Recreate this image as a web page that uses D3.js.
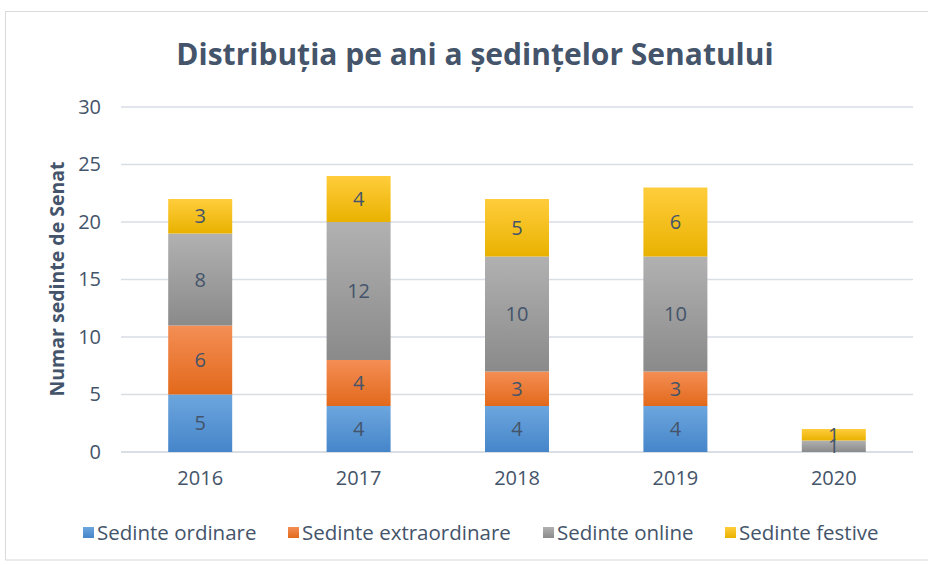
<!DOCTYPE html>
<html>
<head>
<meta charset="utf-8">
<style>
  body { margin: 0; background: #fff; }
  text { font-family: "Open Sans", "Noto Sans", sans-serif; }
</style>
<script src="https://d3js.org/d3.v7.min.js"></script>
</head>
<body>
<svg id="chart" width="928" height="565"></svg>
<script>
  // data
  var years = ["2016", "2017", "2018", "2019", "2020"]
  var seriesNames = ["Sedinte ordinare", "Sedinte extraordinare", "Sedinte online", "Sedinte festive"]
  var ordinare = [5, 4, 4, 4, 0]
  var extraordinare = [6, 4, 3, 3, 0]
  var online = [8, 12, 10, 10, 1]
  var festive = [3, 4, 5, 6, 1]
  var yTicks = [0, 5, 10, 15, 20, 25, 30]

  var colors = [["#6da6de", "#4585c9"], ["#f48e55", "#e2691b"], ["#b1b1b1", "#8a8a8a"], ["#ffcd3c", "#e9b200"]]
  var textColor = "#44546a"

  var svg = d3.select("#chart")
  var margin = {top: 107, right: 15, bottom: 113, left: 121}
  var width = 913 - margin.left
  var height = 452 - margin.top

  // border
  svg.append("rect").attr("x", 5.5).attr("y", 11.5).attr("width", 940).attr("height", 548.5)
    .attr("fill", "#fff").attr("stroke", "#d9d9d9")

  var defs = svg.append("defs")
  colors.forEach((c, i) => {
    var lg = defs.append("linearGradient").attr("id", "grad" + i)
      .attr("x1", 0).attr("y1", 0).attr("x2", 0).attr("y2", 1)
    lg.append("stop").attr("offset", "0%").attr("stop-color", c[0])
    lg.append("stop").attr("offset", "100%").attr("stop-color", c[1])
  })

  var g = svg.append("g").attr("transform", "translate(" + margin.left + "," + margin.top + ")")

  var x = d3.scaleBand().domain(years).range([0, width]).paddingInner(0.596).paddingOuter(0.298)
  var y = d3.scaleLinear().domain([0, 30]).range([height, 0])

  // gridlines
  g.selectAll(".grid").data(yTicks).enter().append("line")
    .attr("x1", 0).attr("x2", width)
    .attr("y1", d => y(d)).attr("y2", d => y(d))
    .attr("stroke", "#d9dde4").attr("stroke-width", d => d === 0 ? 2 : 1.3)

  // y axis
  var yAxis = g.append("g").call(d3.axisLeft(y).tickValues(yTicks).tickSize(0).tickPadding(20))
  yAxis.select(".domain").remove()
  yAxis.selectAll("text").attr("fill", textColor).style("font-size", "20px")

  // x axis
  var xAxis = g.append("g").attr("transform", "translate(0," + height + ")")
    .call(d3.axisBottom(x).tickSize(0).tickPadding(19))
  xAxis.select(".domain").remove()
  xAxis.selectAll("text").attr("fill", textColor).style("font-size", "20px")

  // stack
  var table = years.map((yr, i) => ({
    year: yr,
    "Sedinte ordinare": ordinare[i],
    "Sedinte extraordinare": extraordinare[i],
    "Sedinte online": online[i],
    "Sedinte festive": festive[i]
  }))
  var stacked = d3.stack().keys(seriesNames)(table)

  stacked.forEach((s, si) => {
    var layer = g.append("g")
    layer.selectAll("rect").data(s.filter(d => d[1] - d[0] > 0)).enter().append("rect")
      .attr("x", d => x(d.data.year))
      .attr("width", x.bandwidth())
      .attr("y", d => y(d[1]))
      .attr("height", d => y(d[0]) - y(d[1]))
      .attr("fill", "url(#grad" + si + ")")
  })
  stacked.forEach((s, si) => {
    g.append("g").selectAll("text").data(s.filter(d => d[1] - d[0] > 0)).enter().append("text")
      .attr("x", d => x(d.data.year) + x.bandwidth() / 2)
      .attr("y", d => (y(d[0]) + y(d[1])) / 2)
      .attr("dy", "0.35em")
      .attr("text-anchor", "middle")
      .attr("fill", textColor)
      .style("font-size", "20px")
      .text(d => d[1] - d[0])
  })

  // title
  svg.append("text").attr("x", 475).attr("y", 65).attr("text-anchor", "middle")
    .attr("fill", textColor).style("font-size", "30px").style("font-weight", "bold")
    .text("Distribuția pe ani a ședințelor Senatului")

  // y label
  svg.append("text").attr("transform", "translate(64,279) rotate(-90)")
    .attr("text-anchor", "middle").attr("fill", textColor)
    .style("font-size", "19.5px").style("font-weight", "bold")
    .text("Numar sedinte de Senat")

  // legend
  var legendX = [83, 288, 543, 725]
  var legend = svg.append("g")
  seriesNames.forEach((n, i) => {
    legend.append("rect").attr("x", legendX[i]).attr("y", 527).attr("width", 11).attr("height", 11)
      .attr("fill", "url(#grad" + i + ")")
    legend.append("text").attr("x", legendX[i] + 14).attr("y", 540)
      .attr("fill", textColor).style("font-size", "20.5px").text(n)
  })
</script>
</body>
</html>
